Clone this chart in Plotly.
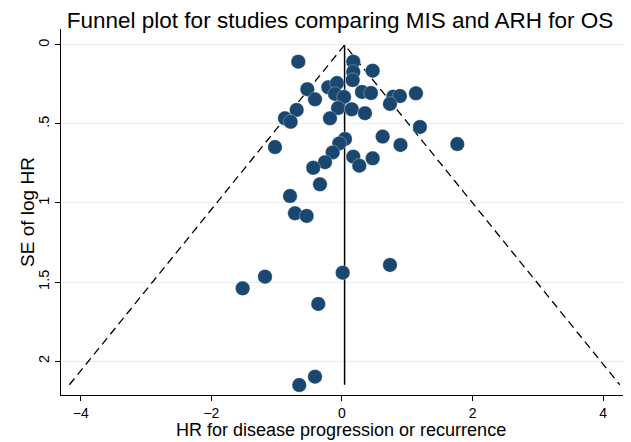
import plotly.graph_objects as go

# Study estimates (log HR) and their standard errors
log_hr = [-0.669, 0.173, 0.470, 0.173, 0.164, -0.531, -0.210, -0.077, -0.107, 0.031,
          -0.413, 0.306, 0.444, 0.786, 0.888, 0.735, 1.133, -0.694, -0.061, 0.149,
          0.352, -0.873, -0.786, -0.184, 1.194, -1.026, 0.046, -0.041, 0.623, 0.896,
          1.766, -0.142, -0.260, -0.440, 0.173, 0.265, 0.470, -0.337, -0.796, -0.720,
          -0.541, 0.011, 0.735, -1.179, -1.521, -0.363, -0.413, -0.654]
se_log_hr = [0.106, 0.106, 0.163, 0.171, 0.222, 0.280, 0.268, 0.241, 0.310, 0.329,
             0.344, 0.297, 0.304, 0.327, 0.323, 0.373, 0.306, 0.411, 0.399, 0.407,
             0.432, 0.464, 0.486, 0.464, 0.519, 0.646, 0.595, 0.623, 0.580, 0.633,
             0.627, 0.680, 0.742, 0.777, 0.707, 0.764, 0.717, 0.882, 0.956, 1.065,
             1.082, 1.441, 1.392, 1.466, 1.540, 1.639, 2.099, 2.152]

pooled = 0.04        # pooled estimate (vertical line)
se_max = 2.15        # bottom of funnel
z = 1.96

x_ticks = [-4, -2, 0, 2, 4]
y_ticks = [0, 0.5, 1, 1.5, 2]
y_tick_labels = ["0", ".5", "1", "1.5", "2"]

title = "Funnel plot for studies comparing MIS and ARH for OS"
x_title = "HR for disease progression or recurrence"
y_title = "SE of log HR"

navy = "#1a476f"
font = "Liberation Sans, Arial, Helvetica, sans-serif"

fig = go.Figure()

# pseudo 95% confidence limits
fig.add_trace(go.Scatter(
    x=[pooled - z * se_max, pooled, pooled + z * se_max],
    y=[se_max, 0, se_max],
    mode="lines",
    line=dict(color="black", width=1.3, dash="8px,5px"),
    hoverinfo="skip", showlegend=False))

# pooled estimate line
fig.add_trace(go.Scatter(
    x=[pooled, pooled], y=[0, se_max],
    mode="lines", line=dict(color="black", width=1.5),
    hoverinfo="skip", showlegend=False))

fig.add_trace(go.Scatter(
    x=log_hr, y=se_log_hr, mode="markers",
    marker=dict(size=14.5, color=navy, line=dict(color="rgba(255,255,255,0.5)", width=0.6)),
    showlegend=False))

fig.update_layout(
    width=623, height=434,
    margin=dict(l=53, r=7, t=21, b=47),
    paper_bgcolor="white", plot_bgcolor="white",
    font=dict(family=font, color="black"),
    title=dict(text=title, x=0.533, xanchor="center", y=0.9715, yanchor="middle",
               yref="container", font=dict(size=22.5, color="black")),
    xaxis=dict(range=[-4.303, 4.319], tickvals=x_ticks, showgrid=False, zeroline=False,
               showline=True, linecolor="black", linewidth=1,
               ticks="outside", ticklen=5, tickcolor="black",
               tickfont=dict(size=14), automargin=False),
    yaxis=dict(range=[2.215, -0.101], tickvals=y_ticks, ticktext=y_tick_labels,
               tickangle=-90, showgrid=True, gridcolor="#e6eef1", gridwidth=1,
               zeroline=False, showline=True, linecolor="black", linewidth=1,
               ticks="outside", ticklen=5, tickcolor="black",
               tickfont=dict(size=14.5), automargin=False),
    annotations=[
        dict(text=x_title, xref="paper", yref="paper", x=0.497, y=-0.0956,
             xanchor="center", yanchor="middle", showarrow=False,
             font=dict(size=18)),
        dict(text=y_title, xref="paper", yref="paper", x=-0.0605, y=0.5,
             xanchor="center", yanchor="middle", textangle=-90, showarrow=False,
             font=dict(size=19)),
    ],
)

fig.write_html("out.html")
